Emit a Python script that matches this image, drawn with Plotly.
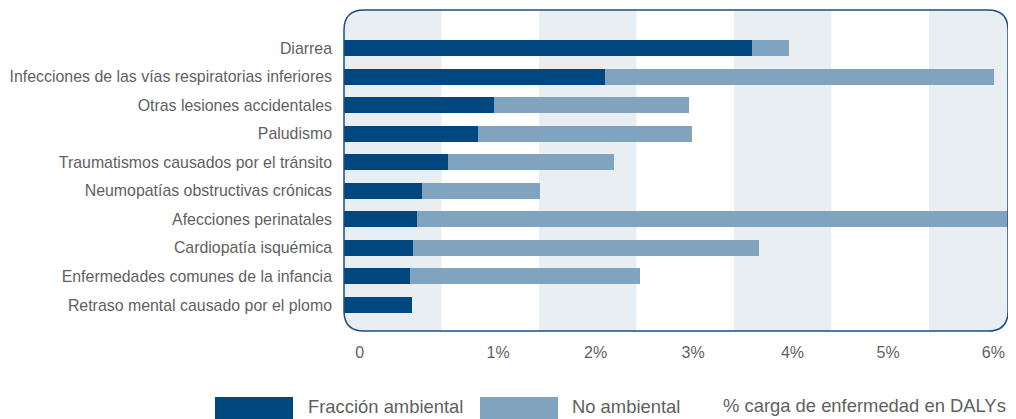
import plotly.graph_objects as go

# categories, top to bottom
categorias = [
    "Diarrea",
    "Infecciones de las vías respiratorias inferiores",
    "Otras lesiones accidentales",
    "Paludismo",
    "Traumatismos causados por el tránsito",
    "Neumopatías obstructivas crónicas",
    "Afecciones perinatales",
    "Cardiopatía isquémica",
    "Enfermedades comunes de la infancia",
    "Retraso mental causado por el plomo",
]
# values, in axis units (one shaded band = 1 unit)
ambiental = [4.18, 2.68, 1.54, 1.37, 1.07, 0.80, 0.75, 0.71, 0.68, 0.70]
no_ambiental = [0.38, 3.99, 2.00, 2.20, 1.70, 1.21, 6.50, 3.55, 2.36, 0.0]

tick_pos = [0.16, 1.58, 2.58, 3.58, 4.60, 5.58, 6.66]
tick_txt = ["0", "1%", "2%", "3%", "4%", "5%", "6%"]

OSCURO = "#00467f"
CLARO = "#80a4c0"
BANDA = "#e9eef3"
BORDE = "#1b4f86"
TEXTO = "#5f5f5f"
FUENTE = "Liberation Sans, Arial"

# page has an 8px body margin, so the figure is a bit smaller than the window
OFF = 8
W, H = 1016 - 2 * OFF, 419 - OFF
ML, MR, MT, MB = 344 - OFF, 0, 10 - OFF, 88
PW, PH = W - ML - MR, H - MT - MB
UNIT = 97.5  # pixels per band


def px(x):
    # page pixel -> paper fraction
    return (x - 344) / PW


def py(y):
    return (331 - y) / PH


fig = go.Figure()
fig.add_trace(go.Bar(y=categorias, x=ambiental, orientation="h", name="Fracción ambiental",
                     marker=dict(color=OSCURO, line_width=0), width=0.56))
fig.add_trace(go.Bar(y=categorias, x=no_ambiental, orientation="h", name="No ambiental",
                     marker=dict(color=CLARO, line_width=0), width=0.56))

shapes = []
# alternating background bands
for i in range(0, 8, 2):
    shapes.append(dict(type="rect", xref="x", yref="paper", x0=i, x1=i + 1, y0=0, y1=1,
                       fillcolor=BANDA, line_width=0, layer="below"))

# rounded frame
rx, ry = 20 / PW, 20 / PH
for path in [
    f"M 0,1 L {rx},1 Q 0,1 0,{1-ry} Z",
    f"M 0,0 L 0,{ry} Q 0,0 {rx},0 Z",
    f"M 1,1 L {1-rx},1 Q 1,1 1,{1-ry} Z",
    f"M 1,0 L 1,{ry} Q 1,0 {1-rx},0 Z",
]:
    shapes.append(dict(type="path", xref="paper", yref="paper", path=path,
                       fillcolor="white", line_width=0, layer="above"))
frame = (f"M {rx},1 L {1-rx},1 Q 1,1 1,{1-ry} L 1,{ry} Q 1,0 {1-rx},0 "
         f"L {rx},0 Q 0,0 0,{ry} L 0,{1-ry} Q 0,1 {rx},1 Z")
shapes.append(dict(type="path", xref="paper", yref="paper", path=frame,
                   line=dict(color=BORDE, width=1.5), layer="above"))

# custom legend swatches
shapes.append(dict(type="rect", xref="paper", yref="paper", x0=px(215), x1=px(293),
                   y0=py(397), y1=py(420), fillcolor=OSCURO, line_width=0))
shapes.append(dict(type="rect", xref="paper", yref="paper", x0=px(480), x1=px(558),
                   y0=py(397), y1=py(420), fillcolor=CLARO, line_width=0))

annotations = [
    dict(text="Fracción ambiental", x=px(306), y=py(419), xanchor="left", yanchor="bottom"),
    dict(text="No ambiental", x=px(570), y=py(419), xanchor="left", yanchor="bottom"),
    dict(text="% carga de enfermedad en DALYs", x=px(721), y=py(405), xanchor="left",
         yanchor="middle"),
]
for a in annotations:
    a.update(xref="paper", yref="paper", showarrow=False,
             font=dict(size=18.4, color=TEXTO, family=FUENTE))

fig.update_layout(
    width=W, height=H,
    margin=dict(l=ML, r=MR, t=MT, b=MB),
    barmode="stack",
    showlegend=False,
    plot_bgcolor="white",
    paper_bgcolor="white",
    font=dict(family=FUENTE, color=TEXTO),
    shapes=shapes,
    annotations=annotations,
    xaxis=dict(range=[0, PW / UNIT], tickvals=tick_pos, ticktext=tick_txt, showgrid=False,
               zeroline=False, ticks="", tickfont=dict(size=16), ticklabelstandoff=10,
               fixedrange=True),
    yaxis=dict(categoryorder="array", categoryarray=categorias, range=[9.91, -1.33],
               showgrid=False, zeroline=False, ticks="", tickfont=dict(size=15.9),
               ticklabelstandoff=11, fixedrange=True),
)

fig.write_html("out.html", config={"displayModeBar": False})
